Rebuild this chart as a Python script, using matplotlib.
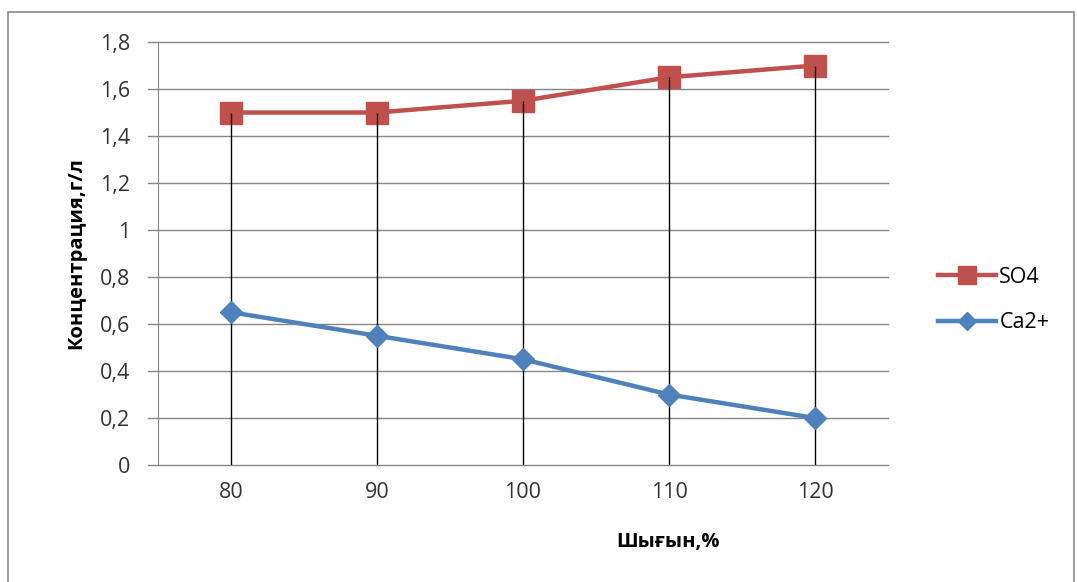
import matplotlib.pyplot as plt
from matplotlib.patches import Rectangle

plt.rcParams['font.family'] = ['Open Sans', 'DejaVu Sans']

shygyn = ['80', '90', '100', '110', '120']
so4 = [1.5, 1.5, 1.55, 1.65, 1.7]
ca2 = [0.65, 0.55, 0.45, 0.3, 0.2]
yticks = [0, 0.2, 0.4, 0.6, 0.8, 1, 1.2, 1.4, 1.6, 1.8]
ylabels = ['0', '0,2', '0,4', '0,6', '0,8', '1', '1,2', '1,4', '1,6', '1,8']

red = '#C0504D'
blue = '#4F81BD'
grid = '#868686'

fig = plt.figure(figsize=(10.77, 5.82), dpi=100)
ax = fig.add_axes([0.1467, 0.201, 0.6778, 0.7268])

x = list(range(len(shygyn)))

# drop lines from the upper series down to the category axis
ax.vlines(x, 0, so4, color='black', lw=1, zorder=4)
ax.plot(x, so4, color=red, lw=3.2, marker='s', ms=15.5, label='SO4', zorder=3)
ax.plot(x, ca2, color=blue, lw=3.2, marker='D', ms=11.5, label='Ca2+', zorder=5)

ax.set_xlim(-0.5, len(shygyn) - 0.5)
ax.set_ylim(0, 1.8)
ax.set_xticks(x)
ax.set_xticklabels(shygyn)
ax.set_yticks(yticks)
ax.set_yticklabels(ylabels)
ax.tick_params(axis='x', length=0, pad=12, labelsize=15.5, colors='#333333')
ax.tick_params(axis='y', length=0, pad=20, labelsize=15.5, colors='#333333')
for yv in yticks:
    ax.plot([-0.57, len(shygyn) - 0.5], [yv, yv], color=grid, lw=1,
            clip_on=False, zorder=1)

for s in ['top', 'right', 'bottom']:
    ax.spines[s].set_visible(False)
ax.spines['left'].set_color(grid)

ax.set_ylabel('Концентрация,г/л', fontsize=14.5, fontweight='bold', labelpad=10)
fig.text(0.62, 0.068, 'Шығын,%', fontsize=14.5, fontweight='bold',
         ha='center', va='center')

leg = ax.legend(loc='center left', bbox_to_anchor=(1.042, 0.39), frameon=False,
                fontsize=15.5, handlelength=2.7, labelspacing=1.15,
                handletextpad=0.15, markerscale=0.8)

fig.patches.append(Rectangle((0.0075, -0.1), 0.99, 1.079,
                             transform=fig.transFigure, fill=False,
                             edgecolor='#8c8c8c', lw=1.2))

fig.savefig('out.png', dpi=100)
